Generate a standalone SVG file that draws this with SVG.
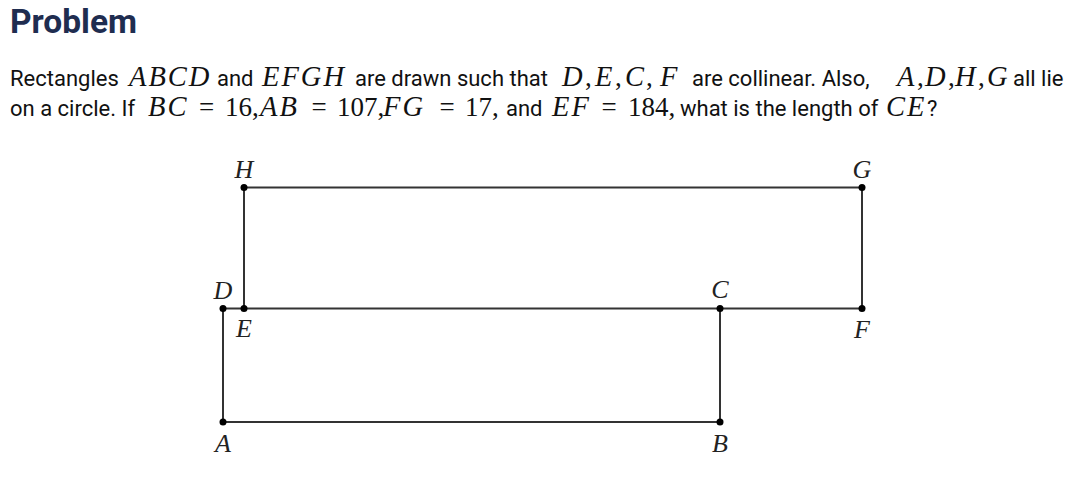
<svg xmlns="http://www.w3.org/2000/svg" width="1080" height="477" viewBox="0 0 1080 477">
<style>
.title{font-family:Roboto,"Liberation Sans",sans-serif;font-weight:700;font-size:33.5px;fill:#1f2d50}
.t{font-family:Roboto,"Liberation Sans",sans-serif;font-size:22px;fill:#111}
.m{font-family:"Liberation Serif","DejaVu Serif",serif;font-style:italic;font-size:28.5px;letter-spacing:2px;fill:#111}
.n{font-family:"Liberation Serif","DejaVu Serif",serif;font-size:27px;fill:#111}
.lbl{font-family:"Liberation Serif","DejaVu Serif",serif;font-style:italic;font-size:26px;fill:#222;text-anchor:middle}
.edge{stroke:#333;stroke-width:2;fill:none}
.dot{fill:#000}
</style>
<rect width="1080" height="477" fill="#fff"/>
<text class="title" x="10" y="33">Problem</text>
<g id="text">
<text y="86"><tspan class="t" x="10">Rectangles</tspan><tspan class="m" x="129">ABCD</tspan><tspan class="t" x="217">and</tspan><tspan class="m" x="262">EFGH</tspan><tspan class="t" x="355">are drawn such that</tspan><tspan class="m" x="562">D</tspan><tspan class="n" x="585">,</tspan><tspan class="m" x="595">E</tspan><tspan class="n" x="615">,</tspan><tspan class="m" x="625">C</tspan><tspan class="n" x="646">,</tspan><tspan class="m" x="660">F</tspan><tspan class="t" x="692">are collinear. Also,</tspan><tspan class="m" x="897">A</tspan><tspan class="n" x="917">,</tspan><tspan class="m" x="925">D</tspan><tspan class="n" x="948">,</tspan><tspan class="m" x="955">H</tspan><tspan class="n" x="978">,</tspan><tspan class="m" x="987">G</tspan><tspan class="t" x="1013">all lie</tspan></text>
<text y="116"><tspan class="t" x="10">on a circle. If</tspan><tspan class="m" x="148">BC</tspan><tspan class="n" x="199">=</tspan><tspan class="n" x="225">16,</tspan><tspan class="m" x="260">AB</tspan><tspan class="n" x="311.5">=</tspan><tspan class="n" x="337">107,</tspan><tspan class="m" x="383">FG</tspan><tspan class="n" x="439.5">=</tspan><tspan class="n" x="465">17,</tspan><tspan class="t" x="506">and</tspan><tspan class="m" x="552">EF</tspan><tspan class="n" x="601.5">=</tspan><tspan class="n" x="628">184,</tspan><tspan class="t" x="680">what is the length of</tspan><tspan class="m" x="886">CE</tspan><tspan class="t" x="927">?</tspan></text>
</g>
<g id="connectors">
<polyline class="edge" points="223,308.5 223,422 720,422 720,308.5 223,308.5"/>
<polyline class="edge" points="244,308.5 244,187.5 862,187.5 862,308.5 720,308.5"/>
</g>
<g id="node-A"><circle class="dot" cx="223" cy="422" r="3.5"/><text class="lbl" x="223" y="452">A</text></g>
<g id="node-B"><circle class="dot" cx="720" cy="422" r="3.5"/><text class="lbl" x="720" y="452">B</text></g>
<g id="node-C"><circle class="dot" cx="720" cy="308.5" r="3.5"/><text class="lbl" x="720" y="298">C</text></g>
<g id="node-D"><circle class="dot" cx="223" cy="308.5" r="3.5"/><text class="lbl" x="223" y="299">D</text></g>
<g id="node-E"><circle class="dot" cx="244" cy="308.5" r="3.5"/><text class="lbl" x="244" y="337">E</text></g>
<g id="node-F"><circle class="dot" cx="862" cy="308.5" r="3.5"/><text class="lbl" x="862" y="338">F</text></g>
<g id="node-G"><circle class="dot" cx="862" cy="187.5" r="3.5"/><text class="lbl" x="862" y="178">G</text></g>
<g id="node-H"><circle class="dot" cx="244" cy="187.5" r="3.5"/><text class="lbl" x="244" y="178">H</text></g>
</svg>
